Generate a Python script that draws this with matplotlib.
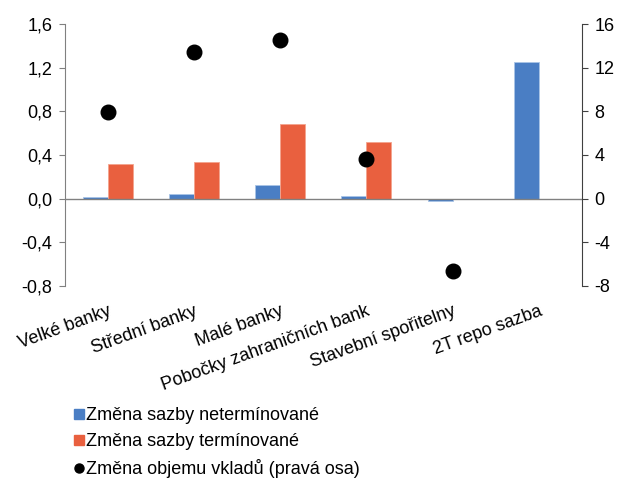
import matplotlib

matplotlib.use("Agg")
import matplotlib.pyplot as plt
from matplotlib.lines import Line2D
import numpy as np

plt.rcParams["font.family"] = ["Liberation Sans", "DejaVu Sans"]

categories = ["Velké banky", "Střední banky", "Malé banky", "Pobočky zahraničních bank",
              "Stavební spořitelny", "2T repo sazba"]
netermin = [0.01, 0.04, 0.12, 0.02, -0.02, 1.25]
termin = [0.32, 0.34, 0.68, 0.52, -0.005, np.nan]
objem = [7.9, 13.4, 14.5, 3.6, -6.6, np.nan]

left_ticks = [-0.8, -0.4, 0.0, 0.4, 0.8, 1.2, 1.6]
right_ticks = [-8, -4, 0, 4, 8, 12, 16]

BLUE = "#4A7EC4"
ORANGE = "#E9603F"
FS = 13

fig = plt.figure(figsize=(6.17, 4.82), dpi=100)
ax = fig.add_axes([0.105, 0.407, 0.838, 0.543])
ax2 = ax.twinx()

x = np.arange(len(categories))
w = 0.29
ax.bar(x - w / 2, netermin, width=w, color=BLUE, edgecolor="#A9C4E6", linewidth=0.6, zorder=2)
ax.bar(x + w / 2, termin, width=w, color=ORANGE, edgecolor="#F4A48E", linewidth=0.6, zorder=2)
ax.axhline(0, color="#808080", lw=1.0, zorder=3)

ax2.scatter(x, objem, s=110, color="black", zorder=4)

ax.set_xlim(-0.5, len(categories) - 0.5)
ax.set_ylim(-0.8, 1.6)
ax2.set_ylim(-8, 16)
ax.set_yticks(left_ticks)
ax.set_yticklabels([f"{v:.1f}".replace(".", ",") for v in left_ticks])
ax2.set_yticks(right_ticks)
ax2.set_yticklabels([str(v) for v in right_ticks])

ax.set_xticks(x)
ax.set_xticklabels(categories, rotation=20, ha="right", rotation_mode="anchor")
ax.tick_params(axis="x", length=0, pad=12, labelsize=FS)
ax.tick_params(axis="y", direction="out", length=4, color="#808080", labelsize=FS, pad=5)
ax2.tick_params(axis="y", direction="out", length=4, color="#404040", labelsize=FS, pad=5)

for a in (ax, ax2):
    for s in ("top", "bottom"):
        a.spines[s].set_visible(False)
ax.spines["right"].set_visible(False)
ax2.spines["left"].set_visible(False)
ax.spines["left"].set_color("#808080")
ax2.spines["right"].set_color("#404040")

handles = [
    Line2D([], [], ls="none", marker="s", ms=6.5, color=BLUE),
    Line2D([], [], ls="none", marker="s", ms=6.5, color=ORANGE),
    Line2D([], [], ls="none", marker="o", ms=6.5, color="black"),
]
labels = ["Změna sazby netermínované", "Změna sazby termínované",
          "Změna objemu vkladů (pravá osa)"]
fig.legend(handles, labels, loc="upper left", bbox_to_anchor=(0.118, 0.155),
           frameon=False, fontsize=FS, handletextpad=0.05, handlelength=0.7,
           labelspacing=0.5, borderaxespad=0, borderpad=0)

fig.savefig("out.png", dpi=100)
